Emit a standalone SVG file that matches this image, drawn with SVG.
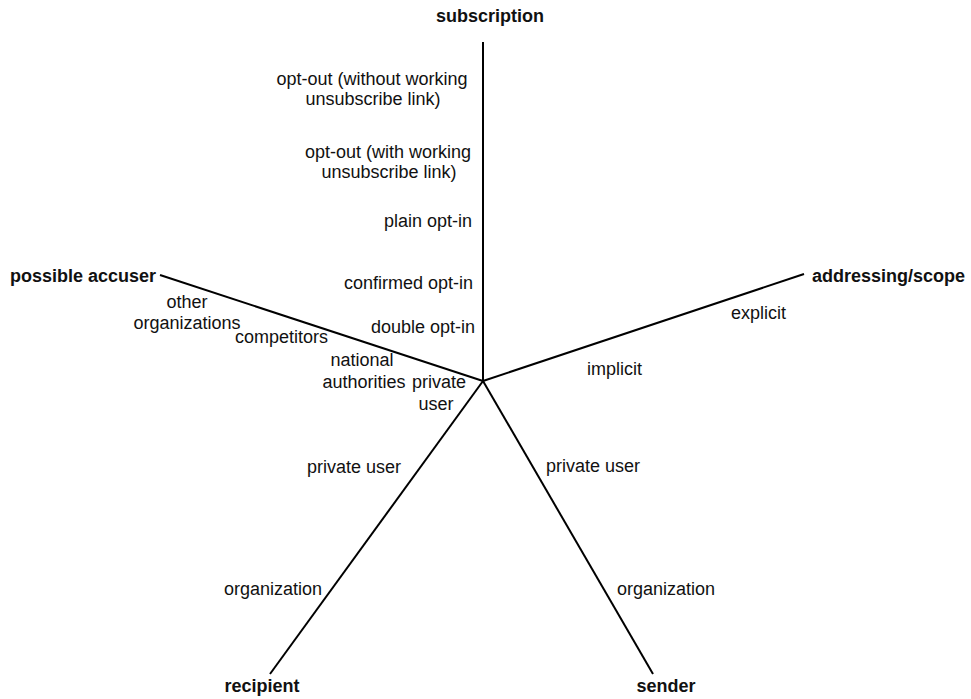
<svg xmlns="http://www.w3.org/2000/svg" width="971" height="699" viewBox="0 0 971 699">
<style>
text{font-family:"Liberation Sans",Arial,sans-serif;font-size:18px;fill:#111}
.t{font-weight:bold}
.m{text-anchor:middle}
.e{text-anchor:end}
line{stroke:#000;stroke-width:2}
</style>
<rect width="971" height="699" fill="#fff"/>
<g id="connectors">
<line x1="483" y1="381" x2="483" y2="42"/>
<line x1="483" y1="381" x2="160" y2="275"/>
<line x1="483" y1="381" x2="804" y2="274"/>
<line x1="483" y1="381" x2="270" y2="674"/>
<line x1="483" y1="381" x2="653" y2="674"/>
</g>
<g id="subscription">
<text class="t m" x="490" y="22">subscription</text>
<text class="m" x="372" y="85">opt-out (without working</text>
<text class="m" x="373" y="105">unsubscribe link)</text>
<text class="m" x="388" y="158">opt-out (with working</text>
<text class="m" x="389" y="178">unsubscribe link)</text>
<text class="e" x="472" y="227">plain opt-in</text>
<text class="e" x="473" y="289">confirmed opt-in</text>
<text class="e" x="475" y="333">double opt-in</text>
</g>
<g id="addressing">
<text class="t" x="812" y="282">addressing/scope</text>
<text x="731" y="319">explicit</text>
<text x="587" y="375">implicit</text>
</g>
<g id="accuser">
<text class="t" x="10" y="282">possible accuser</text>
<text class="m" x="187" y="308">other</text>
<text class="m" x="187" y="329">organizations</text>
<text x="235" y="343">competitors</text>
<text class="m" x="362" y="366">national</text>
<text class="m" x="364" y="388">authorities</text>
</g>
<g id="recipient">
<text class="m" x="439" y="388">private</text>
<text class="m" x="436" y="410">user</text>
<text x="307" y="473">private user</text>
<text x="224" y="595">organization</text>
<text class="t m" x="262" y="692">recipient</text>
</g>
<g id="sender">
<text x="546" y="472">private user</text>
<text x="617" y="595">organization</text>
<text class="t m" x="666" y="692">sender</text>
</g>
</svg>
